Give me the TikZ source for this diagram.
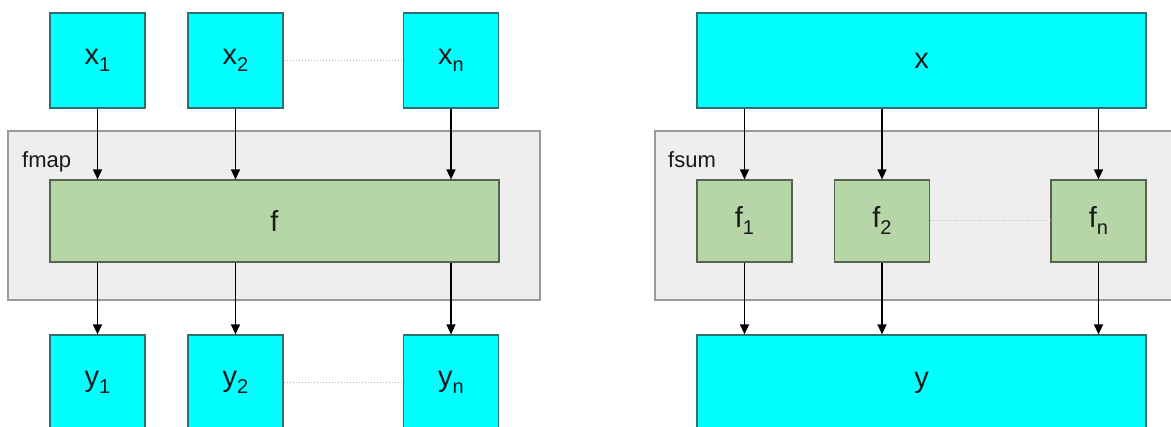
\documentclass[tikz,border=0pt]{standalone}
\usepackage{fontspec}
\setmainfont{Liberation Sans}
\usetikzlibrary{arrows.meta}
\definecolor{cyanfill}{HTML}{00FFFF}
\definecolor{cyanedge}{HTML}{2E7070}
\definecolor{greenfill}{HTML}{B7D6A7}
\definecolor{greenedge}{HTML}{56634E}
\definecolor{grayfill}{HTML}{EEEEEE}
\definecolor{grayedge}{HTML}{9A9A9A}
\definecolor{textcol}{HTML}{1A1A1A}
\newcommand{\lbl}[2]{#1\raisebox{-7pt}{\fontsize{20}{20}\selectfont #2}}
\tikzset{
  cbox/.style={draw=cyanedge, fill=cyanfill, line width=1.2pt, text=textcol, font=\fontsize{29}{29}\selectfont, inner sep=0pt},
  gbox/.style={draw=greenedge, fill=greenfill, line width=1.2pt, text=textcol, font=\fontsize{29}{29}\selectfont, inner sep=0pt},
  container/.style={draw=grayedge, fill=grayfill, line width=1.2pt, inner sep=0pt},
  clabel/.style={text=textcol, font=\fontsize{22}{22}\selectfont, anchor=base west, inner sep=0pt},
  arr/.style={line width=1.4pt, -{Triangle[width=9pt,length=10pt]}},
  dotline/.style={draw=grayedge!70, line width=1pt, dotted}
}
\begin{document}
\begin{tikzpicture}[x=1pt,y=-1pt]
\clip (0,0) rectangle (1171,427);
\fill[white] (0,0) rectangle (1171,427);
% ---------- left: fmap ----------
\node[container, minimum width=532pt, minimum height=169pt] (fmapbox) at (274,215.5) {};
\node[clabel] (fmaplbl) at (22,168) {fmap};
\node[cbox, minimum width=95pt, minimum height=95pt] (x1) at (97.5,60.5) {\lbl{x}{1}};
\node[cbox, minimum width=95pt, minimum height=95pt] (x2) at (235.5,60.5) {\lbl{x}{2}};
\node[cbox, minimum width=95pt, minimum height=95pt] (xn) at (451,60.5) {\lbl{x}{n}};
\node[gbox, minimum width=449pt, minimum height=82pt] (f) at (274.5,221) {f};
\node[cbox, minimum width=95pt, minimum height=95pt] (y1) at (97.5,382.5) {\lbl{y}{1}};
\node[cbox, minimum width=95pt, minimum height=95pt] (y2) at (235.5,382.5) {\lbl{y}{2}};
\node[cbox, minimum width=95pt, minimum height=95pt] (yn) at (451,382.5) {\lbl{y}{n}};
\draw[dotline] (x2.east) -- (xn.west);
\draw[dotline] (y2.east) -- (yn.west);
\foreach \n in {x1,x2,xn} \draw[arr] (\n.south) -- (\n.south |- f.north);
\draw[arr] (f.south -| y1.north) -- (y1.north);
\draw[arr] (f.south -| y2.north) -- (y2.north);
\draw[arr] (f.south -| yn.north) -- (yn.north);
% ---------- right: fsum ----------
\node[container, minimum width=540pt, minimum height=169pt] (fsumbox) at (925,215.5) {};
\node[clabel] (fsumlbl) at (668,168) {fsum};
\node[cbox, minimum width=449pt, minimum height=95pt] (x) at (921.5,60.5) {x};
\node[gbox, minimum width=95pt, minimum height=82pt] (f1) at (744.5,221) {\lbl{f}{1}};
\node[gbox, minimum width=95pt, minimum height=82pt] (f2) at (882,221) {\lbl{f}{2}};
\node[gbox, minimum width=95pt, minimum height=82pt] (fn) at (1098.5,221) {\lbl{f}{n}};
\node[cbox, minimum width=449pt, minimum height=95pt] (y) at (921.5,382.5) {y};
\draw[dotline] (f2.east) -- (fn.west);
\foreach \n in {f1,f2,fn} {
  \draw[arr] (x.south -| \n.north) -- (\n.north);
  \draw[arr] (\n.south) -- (\n.south |- y.north);
}
\end{tikzpicture}
\end{document}
